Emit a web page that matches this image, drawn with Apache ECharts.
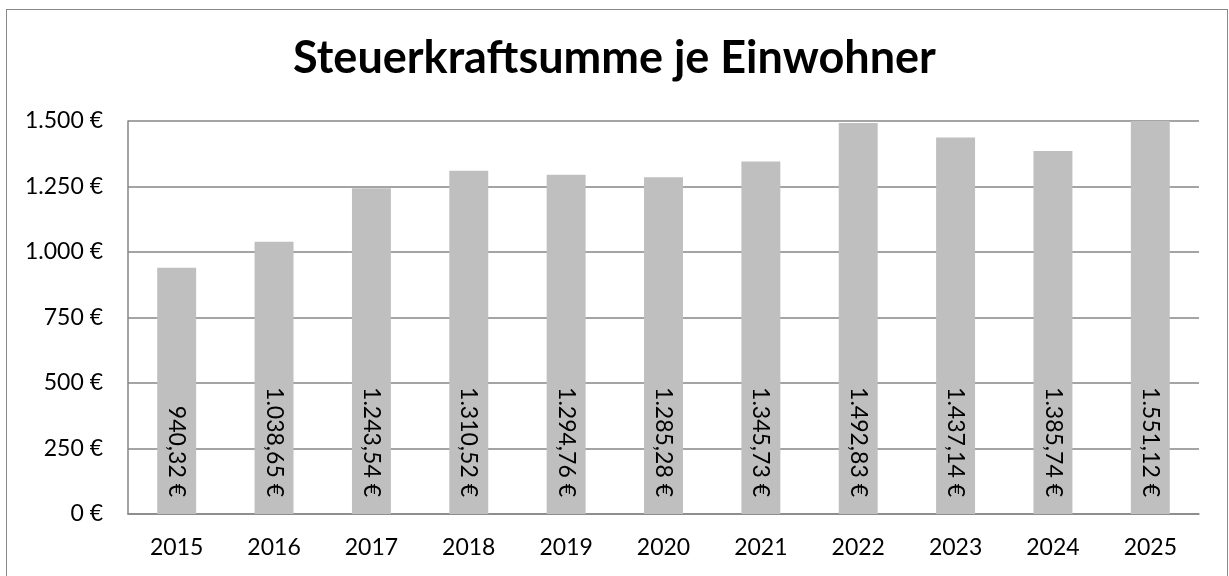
<!DOCTYPE html>
<html>
<head>
<meta charset="utf-8">
<script src="https://cdn.jsdelivr.net/npm/echarts@6/dist/echarts.min.js"></script>
<style>
  html, body { margin: 0; padding: 0; background: #fff; }
  #frame { position: absolute; left: 6px; top: 9px; width: 1220px; height: 600px; border: 1px solid #898989; border-bottom: none; }
  #chart { width: 1229px; height: 576px; position: absolute; left: 0; top: 0; }
</style>
</head>
<body>
<div id="frame"></div>
<div id="chart"></div>
<script>
var years = ['2015', '2016', '2017', '2018', '2019', '2020', '2021', '2022', '2023', '2024', '2025'];
var values = [940.32, 1038.65, 1243.54, 1310.52, 1294.76, 1285.28, 1345.73, 1492.83, 1437.14, 1385.74, 1551.12];
var yTicks = [0, 250, 500, 750, 1000, 1250, 1500];

function euro(v, dec) {
  var s = v.toFixed(dec).split('.');
  var intPart = s[0].replace(/\B(?=(\d{3})+(?!\d))/g, '.');
  return intPart + (dec ? ',' + s[1] : '') + ' €';
}

var dom = document.getElementById('chart');
var myChart = echarts.init(dom);
var option = {
  animation: false,
  textStyle: { fontFamily: 'Lato' },
  title: {
    text: 'Steuerkraftsumme je Einwohner',
    left: 'center',
    top: 31,
    textStyle: { fontFamily: 'Lato', fontWeight: 'bold', fontSize: 45, color: '#000' }
  },
  grid: { left: 128, right: 30, top: 121, bottom: 62, containLabel: false },
  xAxis: {
    type: 'category',
    data: years,
    axisLine: { show: true, lineStyle: { color: '#868686', width: 1.5 } },
    axisTick: { show: false },
    axisLabel: { color: '#000', fontSize: 23, margin: 22 }
  },
  yAxis: {
    type: 'value',
    min: yTicks[0],
    max: yTicks[yTicks.length - 1],
    interval: 250,
    axisLine: { show: true, lineStyle: { color: '#868686', width: 1.5 } },
    axisTick: { show: false },
    splitLine: { lineStyle: { color: '#868686', width: 1.5 } },
    axisLabel: { color: '#000', fontSize: 23, margin: 25, formatter: function (v) { return euro(v, 0); } }
  },
  series: [{
    type: 'bar',
    data: values,
    barWidth: '40%',
    clip: true,
    itemStyle: { color: '#BFBFBF' },
    label: {
      show: true,
      position: 'insideBottom',
      distance: 17,
      rotate: -90,
      align: 'right',
      verticalAlign: 'middle',
      fontSize: 23,
      color: '#000',
      formatter: function (p) { return euro(p.value, 2); }
    }
  }]
};
myChart.setOption(option, true);
</script>
</body>
</html>
